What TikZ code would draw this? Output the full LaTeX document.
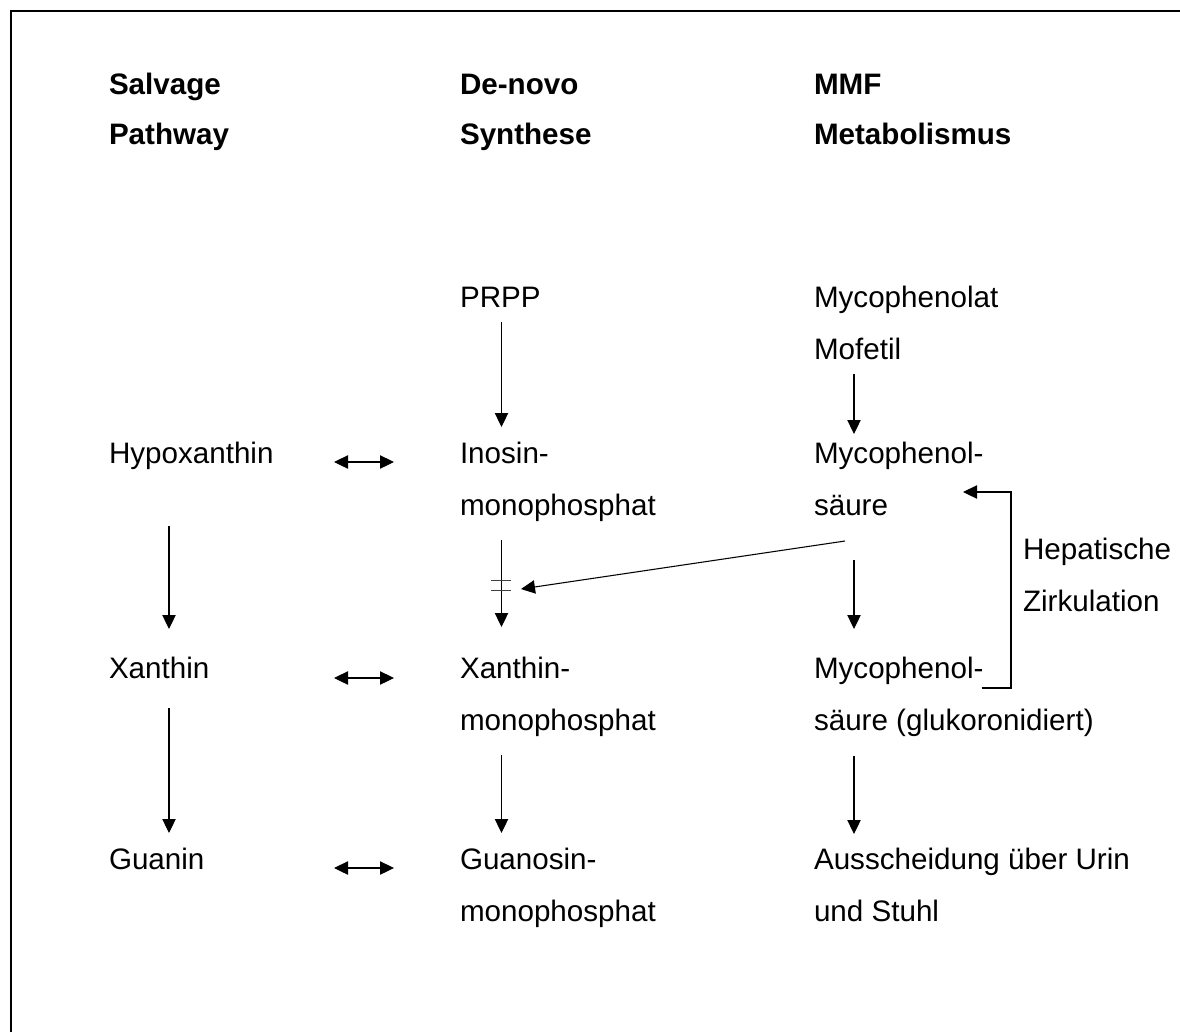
\documentclass[tikz,border=0pt]{standalone}
\usepackage{fontspec}
\setmainfont{Liberation Sans}
\usetikzlibrary{arrows.meta}
\begin{document}
\begin{tikzpicture}[x=0.75pt,y=-0.75pt,
  txt/.style={anchor=base west,inner sep=0pt,outer sep=0pt,font=\fontsize{22.2}{26}\selectfont},
  hd/.style={txt,font=\fontsize{22.2}{26}\selectfont\bfseries},
  arr/.style={line width=0.8pt,-{Triangle[width=10pt,length=10.5pt]}},
  darr/.style={line width=0.8pt,{Triangle[width=10pt,length=10.5pt]}-{Triangle[width=10pt,length=10.5pt]}},
  bar/.style={line width=0.75pt,draw=black!75}]
\useasboundingbox (0,0) rectangle (1180,1032);
\draw[line width=1.6pt] (11,1032) -- (11,11) -- (1180,11);

% headings
\node[hd] (h1a) at (109,94) {Salvage};
\node[hd] (h1b) at (109,144) {Pathway};
\node[hd] (h2a) at (460,94) {De-novo};
\node[hd] (h2b) at (460,144) {Synthese};
\node[hd] (h3a) at (814,94) {MMF};
\node[hd] (h3b) at (814,144) {Metabolismus};

% column 1
\node[txt] (hypo) at (109,463) {Hypoxanthin};
\node[txt] (xan) at (109,678) {Xanthin};
\node[txt] (gua) at (109,869) {Guanin};

% column 2
\node[txt] (prpp) at (460,307) {PRPP};
\node[txt] (imp) at (460,463) {Inosin-};
\node[txt] (imp2) at (460,515) {monophosphat};
\node[txt] (xmp) at (460,678) {Xanthin-};
\node[txt] (xmp2) at (460,730) {monophosphat};
\node[txt] (gmp) at (460,869) {Guanosin-};
\node[txt] (gmp2) at (460,921) {monophosphat};

% column 3
\node[txt] (mmf) at (814,307) {Mycophenolat};
\node[txt] (mmf2) at (814,359) {Mofetil};
\node[txt] (mpa) at (814,463) {Mycophenol-};
\node[txt] (mpa2) at (814,515) {säure};
\node[txt] (mpag) at (814,678) {Mycophenol-};
\node[txt] (mpag2) at (814,730) {säure (glukoronidiert)};
\node[txt] (aus) at (814,869) {Ausscheidung über Urin};
\node[txt] (aus2) at (814,921) {und Stuhl};
\node[txt] (hep) at (1023,559) {Hepatische};
\node[txt] (hep2) at (1023,611) {Zirkulation};

% arrow end points
\coordinate (c1a) at (169,526);  \coordinate (c1b) at (169,629);
\coordinate (c1c) at (169,708);  \coordinate (c1d) at (169,833);
\coordinate (c2a) at (501.5,322); \coordinate (c2b) at (501.5,427);
\coordinate (c2c) at (501.5,540); \coordinate (c2d) at (501.5,627);
\coordinate (c2e) at (501.5,755); \coordinate (c2f) at (501.5,833);
\coordinate (c3a) at (854,374);  \coordinate (c3b) at (854,434);
\coordinate (c3c) at (854,560);  \coordinate (c3d) at (854,629);
\coordinate (c3e) at (854,756);  \coordinate (c3f) at (854,834);
\coordinate (dA) at (334,462);   \coordinate (dB) at (394,462);
\coordinate (dC) at (334,678);   \coordinate (dD) at (394,678);
\coordinate (dE) at (334,868);   \coordinate (dF) at (394,868);
\coordinate (inS) at (845,541);  \coordinate (inT) at (521,589);
\coordinate (b1l) at (491,580);  \coordinate (b1r) at (511,580);
\coordinate (b2l) at (491,590);  \coordinate (b2r) at (511,590);
\coordinate (kA) at (981.5,688); \coordinate (kB) at (1011,688);
\coordinate (kC) at (1011,492);  \coordinate (kD) at (963,492);

% vertical arrows
\draw[arr] (c1a) -- (c1b);
\draw[arr] (c1c) -- (c1d);
\draw[arr] (c2a) -- (c2b);
\draw[arr] (c2c) -- (c2d);
\draw[arr] (c2e) -- (c2f);
\draw[arr] (c3a) -- (c3b);
\draw[arr] (c3c) -- (c3d);
\draw[arr] (c3e) -- (c3f);

% double arrows
\draw[darr] (dA) -- (dB);
\draw[darr] (dC) -- (dD);
\draw[darr] (dE) -- (dF);

% inhibition
\draw[bar] (b1l) -- (b1r);
\draw[bar] (b2l) -- (b2r);
\draw[arr] (inS) -- (inT);

% hepatic circulation
\draw[arr] (kA) -- (kB) -- (kC) -- (kD);
\end{tikzpicture}
\end{document}
